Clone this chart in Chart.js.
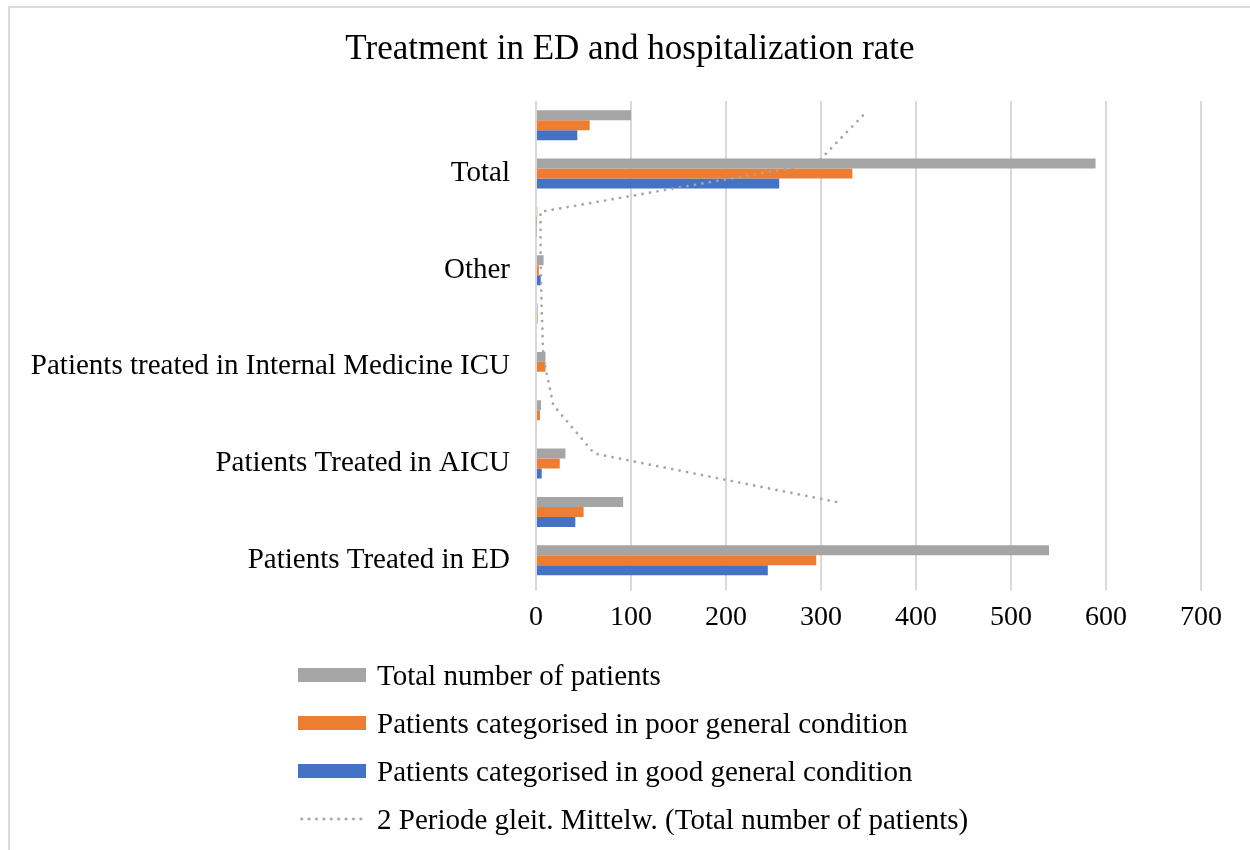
<!DOCTYPE html>
<html>
<head>
<meta charset="utf-8">
<title>Treatment in ED and hospitalization rate</title>
<script src="https://cdn.jsdelivr.net/npm/chart.js@4.4.1/dist/chart.umd.min.js"></script>
<style>
  html, body { margin: 0; padding: 0; background: #ffffff; }
  body {
    width: 1250px; height: 850px; position: relative; overflow: hidden;
    font-family: "Liberation Serif", "Times New Roman", serif;
  }
  /* chart-area frame, runs past the right and bottom edges of the page */
  #frame {
    position: absolute; left: 8px; top: 6px; width: 1300px; height: 900px;
    border: 2px solid #dcdcdc; box-sizing: border-box;
  }
  #chart { position: absolute; left: 0; top: 0; }
  #legend { position: absolute; left: 298px; top: 651px; }
  .item {
    display: flex; align-items: center; height: 48px;
    font-size: 29px; color: #000; white-space: nowrap;
  }
  .key { flex: none; width: 68px; margin-right: 11px; }
  .key.bar { height: 14px; }
  .key.dots {
    height: 4px; width: 66px; margin-right: 13px;
    background-image: radial-gradient(circle, #a5a5a5 1.2px, rgba(165,165,165,0) 1.8px);
    background-size: 7.4px 4px; background-repeat: repeat-x;
  }
</style>
</head>
<body>
<div id="frame"></div>
<canvas id="chart" width="1250" height="850"></canvas>
<div id="legend"></div>
<script>
const chartTitle = 'Treatment in ED and hospitalization rate';

// categories from bottom to top; the unlabelled rows hold the share of all patients (%)
const categories = [
  'Patients Treated in ED', '',
  'Patients Treated in AICU', '',
  'Patients treated in Internal Medicine ICU', '',
  'Other', '',
  'Total', ''
];

const seriesNames = [
  'Total number of patients',
  'Patients categorised in poor general condition',
  'Patients categorised in good general condition',
  '2 Periode gleit. Mittelw. (Total number of patients)'
];

const totalPatients = [540, 91.7, 31, 5.3, 10, 1.7, 8, 1.4, 589, 100];
const poorCondition = [295, 50.1, 25, 4.2, 10, 1.7, 3, 0.5, 333, 56.5];
const goodCondition = [244, 41.4, 6, 1.0, 0, 0, 5, 0.8, 256, 43.5];

// two-period moving average of the total number of patients (starts at the 2nd row)
const movingAverage = [null, 315.9, 61.4, 18.2, 7.7, 5.9, 4.9, 4.7, 295.2, 344.5];

const valueTicks = [0, 100, 200, 300, 400, 500, 600, 700];

const seriesColors = ['#a5a5a5', '#ed7d31', '#4472c4', '#a5a5a5'];

const FONT = "'Liberation Serif', 'Times New Roman', serif";
const GROUP_WIDTH = 0.62; // share of a category row used by its three bars

const barSeries = [totalPatients, poorCondition, goodCondition].map((values, i) => ({
  label: seriesNames[i],
  data: values,
  backgroundColor: seriesColors[i],
  borderWidth: 0,
  categoryPercentage: GROUP_WIDTH,
  barPercentage: 1
}));

// moving-average trend line of the grey series: x from the value scale,
// y from the centre of each grey bar, painted above the bars
const trendSeries = {
  label: seriesNames[3],
  values: movingAverage,
  color: seriesColors[3],
  width: 2.8,
  dash: [0, 7.6]
};

const trendLinePlugin = {
  id: 'trendLine',
  afterDatasetsDraw(chart) {
    const xScale = chart.scales.x;
    const greyBars = chart.getDatasetMeta(0).data;
    const ctx = chart.ctx;
    ctx.save();
    ctx.beginPath();
    let started = false;
    trendSeries.values.forEach((v, i) => {
      if (v === null || !greyBars[i]) return;
      const px = xScale.getPixelForValue(v);
      const py = greyBars[i].y;
      if (started) { ctx.lineTo(px, py); } else { ctx.moveTo(px, py); started = true; }
    });
    ctx.strokeStyle = trendSeries.color;
    ctx.lineWidth = trendSeries.width;
    ctx.setLineDash(trendSeries.dash);
    ctx.lineCap = 'round';
    ctx.lineJoin = 'round';
    ctx.stroke();
    ctx.restore();
  }
};

const chart = new Chart(document.getElementById('chart'), {
  type: 'bar',
  data: {
    labels: categories,
    datasets: barSeries
  },
  options: {
    indexAxis: 'y',
    responsive: false,
    animation: false,
    events: [],
    layout: { padding: { left: 10, right: 0, top: 0, bottom: 206 } },
    plugins: {
      legend: { display: false },
      tooltip: { enabled: false },
      title: {
        display: true,
        text: chartTitle,
        color: '#000',
        font: { family: FONT, size: 35, weight: 'normal' },
        padding: { top: 29, bottom: 30 }
      }
    },
    scales: {
      x: {
        type: 'linear',
        position: 'bottom',
        min: valueTicks[0],
        max: valueTicks[valueTicks.length - 1],
        afterBuildTicks: scale => { scale.ticks = valueTicks.map(v => ({ value: v })); },
        afterFit: scale => { scale.paddingRight = 49; },
        grid: { color: '#d9d9d9', lineWidth: 2, drawTicks: true, tickLength: 6, tickColor: '#d9d9d9' },
        border: { display: false },
        ticks: { color: '#000', font: { family: FONT, size: 28 }, padding: 10, maxRotation: 0 }
      },
      y: {
        type: 'category',
        position: 'left',
        reverse: true,
        offset: true,
        grid: { display: false, drawTicks: false, offset: true },
        border: { display: false },
        ticks: { color: '#000', font: { family: FONT, size: 29 }, padding: 26, autoSkip: false },
        afterFit: scale => { scale.width = 526; }
      }
    }
  },
  plugins: [trendLinePlugin]
});

// legend as a vertical list below the plot: the bar series, then the trend line
const legendBox = document.getElementById('legend');
const legendEntries = [
  ...chart.data.datasets.map(ds => ({ label: ds.label, color: ds.backgroundColor, line: false })),
  { label: trendSeries.label, color: trendSeries.color, line: true }
];
legendEntries.forEach(entry => {
  const row = document.createElement('div');
  row.className = 'item';
  const key = document.createElement('span');
  if (entry.line) {
    key.className = 'key dots';
  } else {
    key.className = 'key bar';
    key.style.background = entry.color;
  }
  const text = document.createElement('span');
  text.textContent = entry.label;
  row.appendChild(key);
  row.appendChild(text);
  legendBox.appendChild(row);
});
</script>
</body>
</html>
